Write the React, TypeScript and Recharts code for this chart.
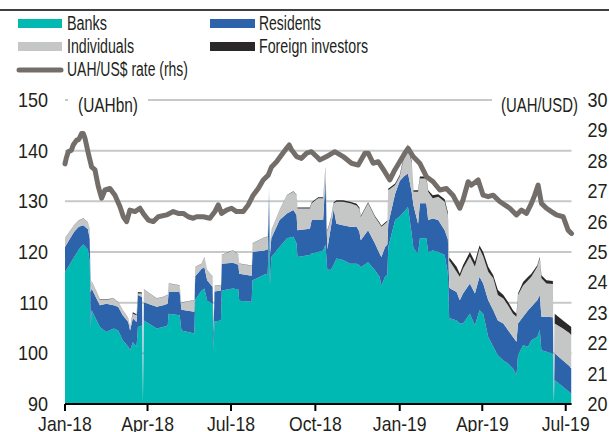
import React from 'react';
import { ComposedChart, Area, Line, XAxis, YAxis, CartesianGrid } from 'recharts';

// days counted from 1 Jan 2018
const days = [
  0, 5, 10, 15, 20, 25, 27, 28, 29, 38,
  45, 53, 58, 63, 69, 71, 74, 78, 79.5, 84,
  85, 86, 100, 107, 112, 113, 125, 127, 141, 142,
  149, 152, 155, 161, 162, 163, 170, 171, 183, 189,
  190, 203.5, 204.5, 217, 221, 222.5, 223.5, 225, 234, 242,
  249, 252.5, 253.5, 267, 269, 276, 281.5, 284, 286, 290,
  293, 296, 303, 311, 318, 321, 322.5, 330.5, 338, 343,
  345, 349, 351.5, 352.5, 360, 365, 370, 374, 378, 380,
  385, 387, 394, 396, 401, 407, 414, 417.5, 419, 420,
  427, 430.5, 434, 441.5, 447, 452, 456, 461.5, 467, 472,
  478, 483, 488.5, 492.3, 494, 499.5, 505, 508.5, 515, 517.7,
  519.5, 525, 532, 533, 534, 543, 550, 552,
];

const banks = [
  116.1, 117.5, 119.0, 120.5, 121.5, 120.5, 118.0, 105.0, 108.5, 105.2,
  104.2, 104.9, 104.5, 102.6, 101.3, 100.6, 102.2, 101.3, 105.2, 105.5,
  90.3, 106.5, 104.9, 105.2, 105.5, 107.8, 107.5, 104.5, 103.9, 110.6,
  112.4, 112.8, 110.4, 109.8, 100.6, 106.3, 106.5, 112.4, 112.8, 112.6,
  110.4, 110.2, 114.4, 115.5, 115.7, 123.5, 113.5, 119.0, 121.0, 122.7,
  123.0, 121.7, 119.0, 119.4, 119.7, 120.0, 120.3, 121.5, 116.5, 116.5,
  117.5, 118.7, 118.4, 117.7, 117.7, 117.4, 117.0, 118.0, 116.4, 115.1,
  113.4, 115.1, 115.5, 121.0, 126.3, 127.0, 128.0, 128.9, 123.6, 120.7,
  119.7, 122.7, 122.7, 120.0, 120.3, 120.0, 119.4, 115.7, 106.5, 106.9,
  106.5, 105.9, 105.9, 107.8, 105.5, 108.5, 107.8, 103.2, 101.3, 99.6,
  98.6, 98.0, 97.0, 95.7, 99.6, 101.6, 101.3, 102.6, 103.2, 104.6,
  100.6, 100.3, 99.9, 90.3, 94.7, 93.4, 92.3, 92.0,
];

const residents = [
  4.9, 5.0, 5.0, 4.5, 3.8, 4.0, 4.5, 7.0, 4.3, 4.3,
  5.6, 4.6, 4.7, 4.9, 4.9, 3.9, 4.7, 4.9, 6.3, 5.6,
  0.2, 3.6, 4.3, 4.3, 4.3, 4.3, 4.6, 4.1, 4.3, 4.6,
  4.3, 4.2, 4.0, 3.3, 3.4, 5.9, 5.9, 5.3, 5.1, 4.9,
  5.3, 5.1, 5.6, 4.8, 4.8, 8.0, 6.0, 3.7, 5.3, 4.9,
  5.3, 5.6, 5.3, 5.2, 6.6, 6.3, 6.0, 13.0, 4.0, 8.5,
  11.0, 6.9, 6.9, 7.3, 7.3, 6.6, 5.3, 6.3, 5.3, 4.6,
  5.6, 5.9, 6.0, 4.6, 5.2, 7.0, 7.0, 6.6, 8.3, 8.5,
  5.9, 6.9, 6.9, 6.3, 6.3, 6.3, 4.9, 6.8, 6.6, 5.9,
  5.6, 4.6, 5.9, 6.0, 6.3, 6.6, 6.0, 7.3, 7.2, 6.9,
  7.3, 6.6, 6.2, 6.6, 6.3, 5.6, 7.2, 6.6, 7.3, 6.9,
  6.6, 6.9, 7.2, 0.2, 5.3, 5.2, 5.2, 5.0,
];

const individuals = [
  1.7, 1.5, 1.3, 1.2, 1.3, 1.3, 2.0, 1.0, 1.5, 1.1,
  0.8, 1.3, 0.9, 1.0, 0.7, 0.7, 0.9, 1.3, 0.3, 0.7,
  0.1, 2.5, 1.6, 1.6, 1.7, 1.7, 1.3, 1.4, 2.3, 1.8,
  1.0, 2.0, 2.0, 2.0, 1.0, 1.1, 1.1, 1.7, 2.4, 2.0,
  2.0, 2.0, 1.7, 2.5, 2.5, 1.5, 2.5, 1.6, 2.0, 3.6,
  3.6, 3.9, 4.3, 4.0, 3.3, 4.3, 4.3, 2.0, 3.5, 1.6,
  1.1, 4.3, 4.6, 4.6, 4.2, 4.5, 4.6, 5.3, 5.2, 5.9,
  6.0, 4.6, 4.5, 6.6, 1.7, 0.9, 4.0, 5.3, 5.6, 2.7,
  6.3, 4.9, 4.9, 5.6, 4.0, 4.6, 5.6, 4.8, 5.1, 5.3,
  4.0, 4.6, 4.9, 5.3, 5.3, 5.6, 5.3, 5.6, 6.3, 5.0,
  4.9, 4.9, 4.6, 4.9, 5.6, 6.2, 5.9, 5.9, 6.6, 7.2,
  7.6, 6.6, 6.6, 0.2, 5.9, 6.3, 6.5, 6.6,
];

const foreign = [
  0.05, 0.05, 0.05, 0.05, 0.05, 0.05, 0.05, 0.05, 0.05, 0.05,
  0.05, 0.05, 0.05, 0.05, 0.05, 0.05, 0.3, 0.2, 0.3, 0.2,
  0, 0.05, 0.05, 0.05, 0.05, 0.05, 0.05, 0.05, 0.05, 0.05,
  0.05, 0.05, 0.05, 0.05, 0.05, 0.05, 0.05, 0.05, 0.05, 0.05,
  0.05, 0.05, 0.05, 0.05, 0.05, 0.05, 0.05, 0.05, 0.05, 0.05,
  0.1, 0.1, 0.2, 0.2, 0.2, 0.2, 0.2, 0.3, 0.2, 0.2,
  0.2, 0.3, 0.3, 0.3, 0.3, 0.3, 0.2, 0.2, 0.2, 0.2,
  0.2, 0.2, 0.2, 0.3, 0.3, 0.3, 0.4, 0.4, 0.4, 0.3,
  0.3, 0.4, 0.4, 0.3, 0.6, 0.5, 0.5, 0.5, 0.6, 0.6,
  1.0, 0.6, 0.7, 0.9, 1.0, 0.6, 0.9, 1.0, 0.6, 1.0,
  0.7, 0.7, 0.7, 0.6, 0.3, 0.7, 0.7, 0.6, 0.3, 0.3,
  0.6, 0.6, 0.6, 0.1, 1.9, 1.6, 1.5, 1.6,
];

// UAH/US$ exchange rate (rhs)
const rateDays = [
  0, 1.5, 3.6, 7, 9, 12.7, 15, 18.2, 20, 21.8,
  25.4, 29, 32.7, 36.3, 40, 43.6, 49, 54.5, 60, 63.6,
  67.2, 70.8, 76.3, 81.7, 85.3, 90.8, 96.2, 101.7, 110.8, 118,
  123.5, 129, 134.4, 139.8, 143.5, 150.8, 158, 163.5, 167.1, 170.7,
  176.2, 181.6, 187, 194.4, 199.8, 205.2, 210.7, 216.1, 221.6, 225.2,
  230.7, 236.1, 241.6, 244.5, 247, 252.5, 257.9, 263.4, 268.8, 274.3,
  278, 285.2, 294.2, 303.3, 312.4, 319.7, 327, 330.6, 336, 341.5,
  348.7, 354.2, 359.6, 365, 370.5, 374.1, 379.6, 386.8, 394.1, 401.4,
  408.7, 415.9, 423, 430.5, 434, 439.6, 443.2, 450.5, 455.9, 461.4,
  466.8, 474, 479.5, 485, 492.3, 497.7, 503.2, 508.6, 512.2, 515.9,
  519.5, 525, 530.4, 535.9, 543.2, 548.6, 552.3,
];

const rates = [
  27.9, 28.1, 28.3, 28.35, 28.52, 28.68, 28.7, 28.9, 28.9, 28.74,
  28.25, 27.8, 27.7, 27.15, 26.77, 27.04, 27.09, 26.87, 26.49, 26.16,
  26.0, 26.38, 26.33, 26.44, 26.27, 26.05, 26.0, 26.16, 26.22, 26.33,
  26.27, 26.27, 26.16, 26.11, 26.16, 26.16, 26.11, 26.33, 26.55, 26.27,
  26.38, 26.44, 26.33, 26.33, 26.55, 26.87, 27.09, 27.37, 27.53, 27.8,
  27.97, 28.19, 28.41, 28.52, 28.36, 28.14, 28.08, 28.25, 28.3, 28.14,
  28.03, 28.14, 28.3, 28.14, 27.92, 27.86, 28.25, 28.25, 27.92, 27.97,
  27.64, 27.37, 27.7, 27.97, 28.25, 28.41, 28.14, 27.92, 27.48, 27.31,
  27.04, 27.09, 26.87, 26.44, 26.71, 27.31, 27.2, 27.37, 26.87, 26.82,
  26.87, 26.66, 26.55, 26.44, 26.22, 26.38, 26.27, 26.6, 26.87, 27.2,
  26.6, 26.44, 26.33, 26.22, 26.16, 25.72, 25.61,
];

const tickDays = [0, 90, 181, 273, 365, 455, 546];
const tickLabels = ['Jan-18', 'Apr-18', 'Jul-18', 'Oct-18', 'Jan-19', 'Apr-19', 'Jul-19'];
const leftTicks = [90, 100, 110, 120, 130, 140, 150];
const rightTicks = [20, 21, 22, 23, 24, 25, 26, 27, 28, 29, 30];

const data = days.map((day, i) => ({
  day,
  banks: banks[i],
  residents: residents[i],
  individuals: individuals[i],
  foreign: foreign[i],
}));

const rateData = rateDays.map((day, i) => ({ day, rate: rates[i] }));

const FONT = "'Liberation Sans', Arial, sans-serif";
const TEXT = '#231f20';
const TEAL = '#00b9b2';
const BLUE = '#2d63ab';
const LIGHT = '#c5c7c7';
const DARK = '#2a2829';
const RATE = '#746e6a';

// the original uses a condensed face, so squeeze the glyphs horizontally
const NumTick = ({ x, y, payload, anchor, squeeze }: any) => (
  <text
    transform={`translate(${x},${y}) scale(${squeeze},1)`}
    textAnchor={anchor}
    dy={7}
    fontFamily={FONT}
    fontSize={20}
    fill={TEXT}
  >
    {payload.value}
  </text>
);

const DateTick = ({ x, y, payload }: any) => (
  <text
    transform={`translate(${x},${y}) scale(0.88,1)`}
    textAnchor="middle"
    dy={15}
    fontFamily={FONT}
    fontSize={20}
    fill={TEXT}
  >
    {tickLabels[tickDays.indexOf(payload.value)]}
  </text>
);

export default function App() {
  return (
    <div style={{ position: 'absolute', left: 0, top: 0, width: 609, height: 432, background: '#fff' }}>
      <ComposedChart width={609} height={432} data={data} margin={{ top: 100, right: 0, bottom: 0, left: 0 }}>
        <CartesianGrid yAxisId="left" vertical={false} stroke="#c6c9c9" strokeWidth={2} />
        <XAxis
          dataKey="day"
          type="number"
          domain={[0, 552]}
          ticks={tickDays}
          interval={0}
          height={28}
          stroke="#000"
          strokeWidth={2}
          tickSize={7}
          tickMargin={5}
          tick={<DateTick />}
          tickLine={{ stroke: '#000', strokeWidth: 2 }}
        />
        <YAxis
          yAxisId="left"
          domain={[90, 150]}
          ticks={leftTicks}
          interval={0}
          allowDataOverflow
          width={65}
          axisLine={false}
          tickLine={false}
          tickSize={0}
          tickMargin={17}
          tick={<NumTick anchor="end" squeeze={0.9} />}
        />
        <YAxis
          yAxisId="right"
          orientation="right"
          domain={[20, 30]}
          ticks={rightTicks}
          interval={0}
          width={37.5}
          axisLine={false}
          tickLine={false}
          tickSize={0}
          tickMargin={16}
          tick={<NumTick anchor="start" squeeze={0.9} />}
        />
        <Area yAxisId="left" type="linear" dataKey="banks" stackId="s" fill={TEAL} fillOpacity={1} stroke="none" isAnimationActive={false} />
        <Area yAxisId="left" type="linear" dataKey="residents" stackId="s" fill={BLUE} fillOpacity={1} stroke="none" isAnimationActive={false} />
        <Area yAxisId="left" type="linear" dataKey="individuals" stackId="s" fill={LIGHT} fillOpacity={1} stroke="none" isAnimationActive={false} />
        <Area yAxisId="left" type="linear" dataKey="foreign" stackId="s" fill={DARK} fillOpacity={1} stroke="none" isAnimationActive={false} />
        <Line
          yAxisId="right"
          data={rateData}
          type="linear"
          dataKey="rate"
          stroke={RATE}
          strokeWidth={5}
          strokeLinejoin="round"
          strokeLinecap="round"
          dot={false}
          isAnimationActive={false}
        />
      </ComposedChart>

      <svg width={609} height={432} style={{ position: 'absolute', left: 0, top: 0, pointerEvents: 'none' }}>
        <line x1={0} x2={609} y1={10} y2={10} stroke="#000" strokeWidth={1.7} />
        <g fontFamily={FONT} fontSize={20} fill={TEXT}>
          <rect x={18} y={19} width={44} height={9} fill={TEAL} />
          <text x={67} y={30} textLength={40} lengthAdjust="spacingAndGlyphs">Banks</text>
          <rect x={210} y={19} width={45} height={9} fill={BLUE} />
          <text x={259} y={30} textLength={62} lengthAdjust="spacingAndGlyphs">Residents</text>
          <rect x={18} y={42} width={44} height={9} fill={LIGHT} />
          <text x={67} y={53} textLength={67} lengthAdjust="spacingAndGlyphs">Individuals</text>
          <rect x={210} y={42} width={45} height={9} fill={DARK} />
          <text x={259} y={53} textLength={109} lengthAdjust="spacingAndGlyphs">Foreign investors</text>
          <line x1={19} x2={61} y1={70} y2={70} stroke={RATE} strokeWidth={5} strokeLinecap="round" />
          <text x={67} y={76} textLength={121} lengthAdjust="spacingAndGlyphs">UAH/US$ rate (rhs)</text>

          <rect x={68} y={92} width={80} height={16} fill="#fff" />
          <text x={78} y={112} textLength={60} lengthAdjust="spacingAndGlyphs">(UAHbn)</text>
          <rect x={492} y={92} width={82} height={16} fill="#fff" />
          <text x={501} y={112} textLength={77} lengthAdjust="spacingAndGlyphs">(UAH/USD)</text>
        </g>
      </svg>
    </div>
  );
}
